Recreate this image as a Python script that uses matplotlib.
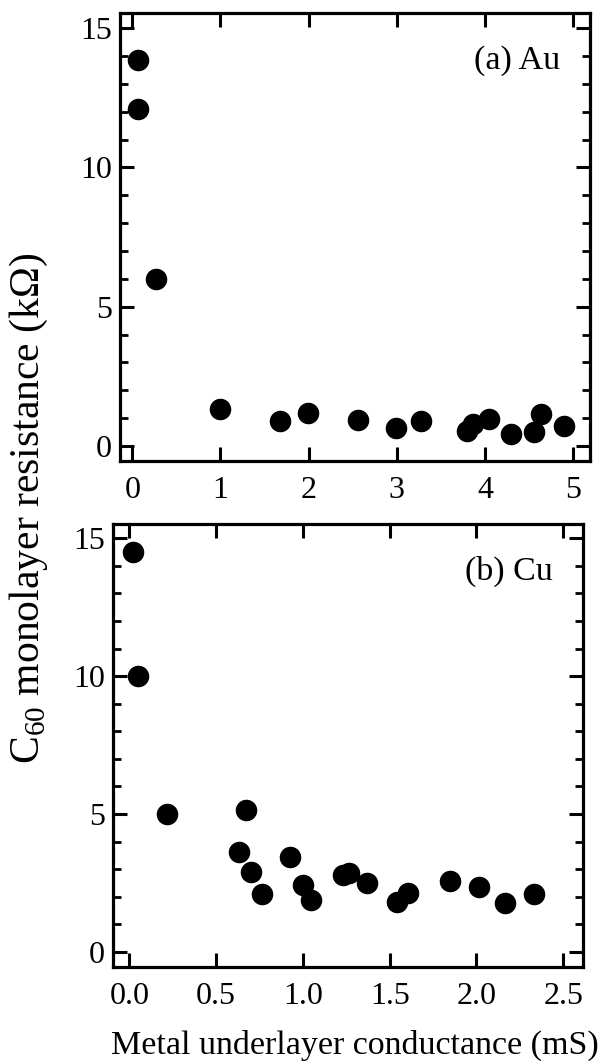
import matplotlib.pyplot as plt

# (a) Au underlayer
au_g = [0.06, 0.06, 0.27, 1.00, 1.67, 1.99, 2.56, 2.99, 3.27, 3.79, 3.86, 4.04, 4.30, 4.55, 4.63, 4.90]
au_r = [13.87, 12.10, 5.99, 1.33, 0.91, 1.17, 0.94, 0.63, 0.88, 0.55, 0.79, 0.97, 0.43, 0.51, 1.15, 0.73]

# (b) Cu underlayer
cu_g = [0.018, 0.051, 0.218, 0.670, 0.631, 0.698, 0.762, 0.925, 1.002, 1.046,
        1.232, 1.267, 1.367, 1.544, 1.603, 1.847, 2.016, 2.164, 2.331]
cu_r = [14.50, 10.00, 5.02, 5.14, 3.63, 2.91, 2.09, 3.45, 2.43, 1.88,
        2.79, 2.87, 2.49, 1.82, 2.15, 2.58, 2.37, 1.79, 2.10]

au_xticks = [0, 1, 2, 3, 4, 5]
cu_xticks = [0.0, 0.5, 1.0, 1.5, 2.0, 2.5]
cu_xticklabels = ["0.0", "0.5", "1.0", "1.5", "2.0", "2.5"]
yticks = [0, 5, 10, 15]

plt.rcParams['font.family'] = ['Liberation Serif', 'DejaVu Serif']
plt.rcParams['mathtext.fontset'] = 'custom'
plt.rcParams['mathtext.rm'] = 'Liberation Serif'

fig = plt.figure(figsize=(6.02, 10.61), dpi=100)
ax1 = fig.add_axes([0.1993, 0.5655, 0.7807, 0.4222])
ax2 = fig.add_axes([0.1877, 0.0886, 0.7807, 0.4175])


def style(ax):
    for s in ax.spines.values():
        s.set_linewidth(2.3)
    ax.tick_params(which='major', direction='in', length=10, width=2.2,
                   top=True, right=True, labelsize=23)
    ax.tick_params(axis='x', which='major', pad=10.5)
    ax.tick_params(axis='y', which='major', pad=6)
    ax.tick_params(which='minor', direction='in', length=6, width=2,
                   top=False, bottom=False, left=True, right=True)
    ax.set_yticks(yticks)
    ax.set_yticks(range(0, 16), minor=True)


ax1.plot(au_g, au_r, 'o', color='black', ms=14.5)
ax1.set_xlim(-0.14, 5.19)
ax1.set_ylim(-0.54, 15.54)
ax1.set_xticks(au_xticks)
style(ax1)
ax1.text(0.937, 0.893, "(a) Au", transform=ax1.transAxes, ha='right', va='center', fontsize=24.5)

ax2.plot(cu_g, cu_r, 'o', color='black', ms=14.5)
ax2.set_xlim(-0.095, 2.614)
ax2.set_ylim(-0.54, 15.51)
ax2.set_xticks(cu_xticks)
ax2.set_xticklabels(cu_xticklabels)
style(ax2)
ax2.text(0.936, 0.892, "(b) Cu", transform=ax2.transAxes, ha='right', va='center', fontsize=24.5)

ax2.set_xlabel("Metal underlayer conductance (mS)", fontsize=24.5, labelpad=14)
ax2.xaxis.label.set_x(0.515)
fig.text(0.048, 0.521, r"C$_{60}$ monolayer resistance (k$\Omega$)", rotation=90,
         ha='center', va='center', fontsize=30)

fig.savefig("out.png", dpi=100)
